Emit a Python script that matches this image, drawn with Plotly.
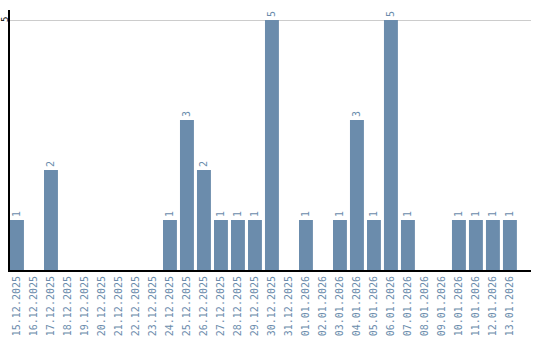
import plotly.graph_objects as go

dates = ["15.12.2025", "16.12.2025", "17.12.2025", "18.12.2025", "19.12.2025",
         "20.12.2025", "21.12.2025", "22.12.2025", "23.12.2025", "24.12.2025",
         "25.12.2025", "26.12.2025", "27.12.2025", "28.12.2025", "29.12.2025",
         "30.12.2025", "31.12.2025", "01.01.2026", "02.01.2026", "03.01.2026",
         "04.01.2026", "05.01.2026", "06.01.2026", "07.01.2026", "08.01.2026",
         "09.01.2026", "10.01.2026", "11.01.2026", "12.01.2026", "13.01.2026"]
counts = [1, 0, 2, 0, 0, 0, 0, 0, 0, 1,
          3, 2, 1, 1, 1, 5, 0, 1, 0, 1,
          3, 1, 5, 1, 0, 0, 1, 1, 1, 1]
y_ticks = [5]

color = "#6b8cac"
mono = "DejaVu Sans Mono"
labels = [str(v) if v > 0 else "" for v in counts]

fig = go.Figure(go.Bar(
    x=list(range(len(dates))), y=counts, text=labels,
    textposition="outside", textangle=-90,
    textfont=dict(family=mono, size=10, color=color),
    marker=dict(color=color, line=dict(width=0)),
    width=0.82, cliponaxis=False,
))

for t in y_ticks:
    fig.add_annotation(
        x=-5 / 521, xref="paper", y=t, yref="y", text=str(t),
        showarrow=False, textangle=-90, xanchor="center", yanchor="middle",
        font=dict(family=mono, size=9, color="black"),
    )

fig.update_layout(
    width=540, height=340,
    margin=dict(l=10, r=9, t=10, b=70),
    paper_bgcolor="white", plot_bgcolor="white",
    showlegend=False,
    font=dict(family=mono, size=10, color=color),
    xaxis=dict(
        range=[-0.41, 30.24], tickmode="array",
        tickvals=list(range(len(dates))), ticktext=dates,
        tickangle=-90, showgrid=False, zeroline=False,
        showline=True, linecolor="black", linewidth=2,
        ticks="", tickfont=dict(family=mono, size=10, color=color),
        automargin=False,
    ),
    yaxis=dict(
        range=[0, 5.2], tickmode="array", tickvals=y_ticks,
        showticklabels=False, showgrid=True, gridcolor="#cccccc", gridwidth=1,
        zeroline=False, showline=True, linecolor="black", linewidth=2,
        ticks="", automargin=False,
    ),
)

fig.write_html("out.html")
